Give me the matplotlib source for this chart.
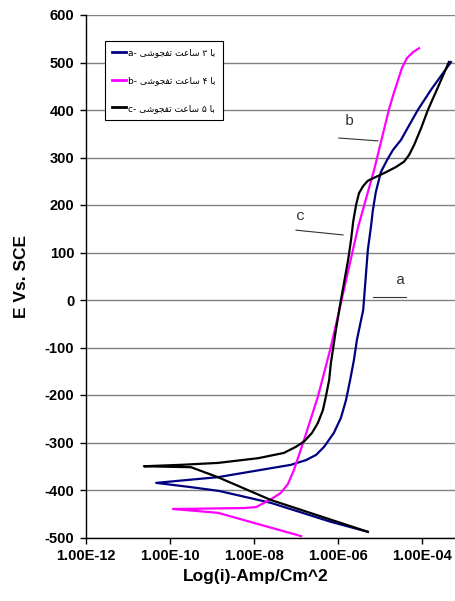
import numpy as np
import matplotlib
matplotlib.use("Agg")
import matplotlib.pyplot as plt

# Tafel polarization curves (log current vs potential)
# values are log10(i), potential in mV vs SCE, drawn cathodic end -> tip -> anodic end
a_logi = [-5.29, -6.17, -7.60, -8.83, -9.50, -10.33, -8.86, -7.12, -6.76, -6.52, -6.33,
          -6.10, -5.93, -5.81, -5.71, -5.62, -5.55, -5.50, -5.40, -5.29, -5.21, -5.17,
          -5.10, -4.98, -4.83, -4.69, -4.50, -4.33, -4.10, -3.79, -3.31]
a_E = [-488, -467, -427, -402, -394, -385, -373, -347, -337, -326, -309,
       -280, -248, -211, -168, -126, -84, -63, -21, 105, 158, 189,
       227, 269, 295, 316, 337, 364, 400, 442, 501]

b_logi = [-6.88, -8.86, -9.93, -8.24, -7.95, -7.76, -7.55, -7.36, -7.19, -7.05, -6.81,
          -6.48, -6.17, -5.93, -5.52, -5.14, -4.79, -4.67, -4.57, -4.48, -4.36, -4.21,
          -4.07]
b_E = [-497, -448, -440, -438, -436, -427, -417, -406, -387, -358, -295,
       -204, -99, -6, 154, 274, 400, 436, 463, 488, 509, 522,
       530]

c_logi = [-5.29, -7.60, -8.86, -9.50, -10.62, -9.74, -8.86, -7.90, -7.29, -7.00, -6.81,
          -6.62, -6.48, -6.36, -6.29, -6.21, -6.17, -6.05, -5.93, -5.76, -5.69, -5.64,
          -5.57, -5.50, -5.40, -5.29, -5.10, -4.86, -4.62, -4.43, -4.31, -4.19, -4.02,
          -3.86, -3.62, -3.36]
c_E = [-488, -421, -373, -352, -350, -347, -343, -333, -322, -309, -298,
       -280, -259, -232, -204, -168, -133, -63, 0, 84, 126, 164,
       200, 225, 240, 251, 259, 269, 280, 291, 305, 326, 362,
       400, 448, 501]

x_ticks = [1e-12, 1e-10, 1e-8, 1e-6, 1e-4]
x_ticklabels = ["1.00E-12", "1.00E-10", "1.00E-08", "1.00E-06", "1.00E-04"]
y_ticks = list(range(-500, 601, 100))

# persian legend text, written in visual order with presentation forms
# (matplotlib does no arabic shaping)
_word_sinter = "\uFEF0\uFEB7\uFEEE\uFEA0\uFED4\uFE97"
_word_hour = "\uFE96\uFECB\uFE8E\uFEB3"
_word_with = "\uFE8E\uFE91"
legend_labels = [
    "a- " + _word_sinter + " " + _word_hour + " \u06F3 " + _word_with,
    "b- " + _word_sinter + " " + _word_hour + " \u06F4 " + _word_with,
    "c- " + _word_sinter + " " + _word_hour + " \u06F5 " + _word_with,
]

# letter tags next to the curves: (text x, text y, line x0, y0, x1, y1) in log10(i) / mV
tags = {
    "a": (-4.50, 27, -5.17, 6, -4.38, 6),
    "b": (-5.74, 362, -5.98, 341, -5.05, 335),
    "c": (-6.88, 162, -7.00, 147, -5.88, 137),
}

fig = plt.figure(figsize=(4.56, 6.01), dpi=100)
ax = fig.add_axes([86 / 456, 63.5 / 601, 371 / 456, 522.5 / 601])

tick_font = {"family": ["Liberation Sans", "DejaVu Sans"], "weight": "bold", "size": 10.5}

line_a, = ax.plot(10 ** np.array(a_logi), a_E, color="#000080", lw=1.6)
line_b, = ax.plot(10 ** np.array(b_logi), b_E, color="#FF00FF", lw=1.6)
line_c, = ax.plot(10 ** np.array(c_logi), c_E, color="black", lw=1.6)

for key, (tx, ty, x0, y0, x1, y1) in tags.items():
    ax.text(10 ** tx, ty, key, family=["Liberation Mono", "DejaVu Sans Mono"],
            fontsize=11, color="#333333", ha="center", va="bottom")
    ax.plot([10 ** x0, 10 ** x1], [y0, y1], color="#333333", lw=0.8)

ax.set_xscale("log")
ax.set_xlim(1e-12, 10 ** (-12 + 371 / 42))
ax.set_ylim(-500, 600)
ax.set_xticks(x_ticks)
ax.set_xticklabels(x_ticklabels, fontdict=tick_font)
ax.xaxis.set_minor_locator(matplotlib.ticker.NullLocator())
ax.set_yticks(y_ticks)
ax.set_yticklabels([str(v) for v in y_ticks], fontdict=tick_font)
ax.tick_params(direction="out", length=4.5, width=1, color="black")
ax.tick_params(axis="x", pad=4)
ax.tick_params(axis="y", pad=4)

ax.grid(axis="y", color="#808080", lw=1)
ax.set_axisbelow(True)
for side in ("top", "right"):
    ax.spines[side].set_visible(False)
for side in ("left", "bottom"):
    ax.spines[side].set_color("black")
    ax.spines[side].set_linewidth(1)

label_font = {"family": ["Liberation Sans", "DejaVu Sans"], "weight": "bold", "size": 12.5}
ax.set_xlabel("Log(i)-Amp/Cm^2", fontdict=label_font)
ax.xaxis.set_label_coords((256 - 86) / 371, (538 - 569) / 522.5)
ax.set_ylabel("E Vs. SCE", fontdict=label_font, va="center")
ax.yaxis.set_label_coords((22 - 86) / 371, (538 - 277) / 522.5)

leg = ax.legend([line_a, line_b, line_c], legend_labels, loc="upper left",
                bbox_to_anchor=((105 - 86) / 371, (538 - 41) / 522.5),
                prop={"family": ["DejaVu Sans"], "size": 6.5},
                frameon=True, fancybox=False, framealpha=1, edgecolor="black",
                handlelength=1.5, handletextpad=0.3, labelspacing=2.1,
                borderpad=0.8, borderaxespad=0)
leg.get_frame().set_linewidth(0.8)
for h in leg.legend_handles:
    h.set_linewidth(2)

fig.savefig("out.png", dpi=100, facecolor="white")
